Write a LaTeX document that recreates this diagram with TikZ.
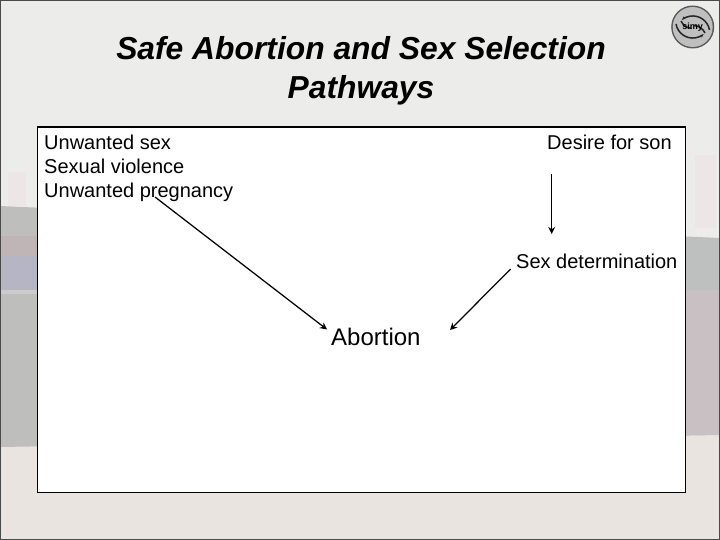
\documentclass[tikz,border=0pt]{standalone}
\usepackage{fontspec}
\setmainfont{Liberation Sans}
\usetikzlibrary{arrows.meta}
\definecolor{bgtop}{HTML}{ECECEA}
\definecolor{bgsand}{HTML}{E9E4DF}
\definecolor{frameedge}{HTML}{4A4A4A}
\definecolor{tintpink}{HTML}{ECE6E6}
\definecolor{bandgrey}{HTML}{BEBEBC}
\definecolor{bandrose}{HTML}{BFB5B6}
\definecolor{bandblue}{HTML}{B5B5C3}
\definecolor{bandpale}{HTML}{CCCCCC}
\definecolor{bandcool}{HTML}{BDC0BF}
\definecolor{bandmauve}{HTML}{C8C0C2}
\tikzset{
  label/.style={inner sep=0pt,anchor=base west,font=\fontsize{20}{24}\selectfont},
  conn/.style={draw=black,line width=1.25pt,-{Stealth[length=7pt,width=7pt]}},
  titletext/.style={inner sep=0pt,anchor=base,font=\fontsize{31.8}{38}\selectfont\bfseries\itshape}
}
\begin{document}
\begin{tikzpicture}[x=1pt,y=-1pt]
\useasboundingbox (0,0) rectangle (720,540);
\fill[bgtop] (0,0) rectangle (720,240);
\fill[bgsand] (0,430) rectangle (720,540);
% faint tints
\fill[tintpink] (8,172) rectangle (26,206);
\fill[tintpink] (695,155) rectangle (716,228);
% horizon band seen at the sides of the panel
\fill[bandgrey] (0,206) -- (720,238) -- (720,435) -- (0,447) -- cycle;
\fill[bandrose] (0,236) rectangle (37,256);
\fill[bandblue] (0,256) rectangle (37,290);
\fill[bandpale] (0,290) rectangle (37,294);
\fill[bandcool] (684,238) rectangle (720,290);
\fill[bandmauve] (684,290) rectangle (720,435);
% slide edge
\draw[frameedge,line width=2pt] (0,0) rectangle (720,540);
% logo
\fill[black!65] (692.7,27) circle (21.5);
\fill[black!25] (692.7,27) circle (20);
\draw[black!85,line width=1.5pt,-{Stealth[length=4pt]}] (676,24) arc (170:50:17);
\draw[black!85,line width=1.5pt] (681,21) arc (155:95:13);
\draw[black!85,line width=1.5pt,-{Stealth[length=4pt]}] (709.5,30) arc (-10:-130:17);
\draw[black!85,line width=1.5pt] (705,33) arc (-25:-85:13);
\node[inner sep=0pt,font=\fontsize{9}{9}\selectfont\bfseries] (logotext) at (692.7,27) {simy};
% title
\node[titletext] (t1) at (361,60) {Safe Abortion and Sex Selection};
\node[titletext] (t2) at (361,98.5) {Pathways};
% panel
\node[draw=black,fill=white,line width=1.3pt,minimum width=648pt,minimum height=365.5pt,inner sep=0pt,anchor=north west] (panel) at (36.5,126.5) {};
% labels
\node[label] (a) at (44,149.7) {Unwanted sex};
\node[label] (b) at (44,173.4) {Sexual violence};
\node[label] (c) at (44,197.4) {Unwanted pregnancy};
\node[label] (d) at (547,149.7) {Desire for son};
\node[label] (e) at (516,268.7) {Sex determination};
\node[label,font=\fontsize{24}{28}\selectfont] (f) at (331,345.5) {Abortion};
\coordinate (c1) at (155,197);
\coordinate (f1) at (327,329.5);
\coordinate (d1) at (551.7,174);
\coordinate (e1) at (551.7,234);
\coordinate (e2) at (510.7,269);
\coordinate (f2) at (450,330);
\draw[conn] (c1) -- (f1);
\draw[conn] (d1) -- (e1);
\draw[conn] (e2) -- (f2);
\end{tikzpicture}
\end{document}
